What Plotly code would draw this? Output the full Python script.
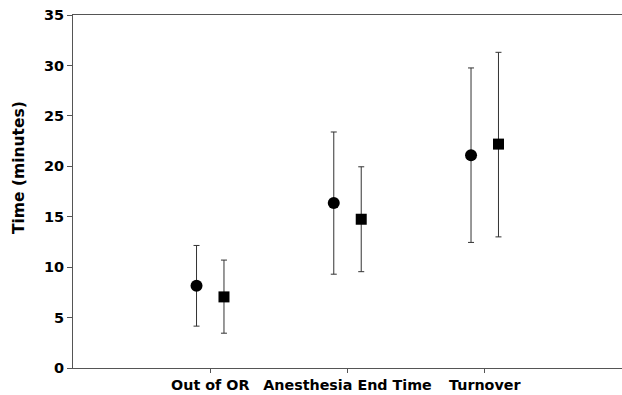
import plotly.graph_objects as go

categories = ["Out of OR", "Anesthesia End Time", "Turnover"]
series_a_mean = [8.15, 16.35, 21.1]
series_a_upper = [12.15, 23.4, 29.75]
series_a_lower = [4.15, 9.3, 12.45]
series_b_mean = [7.05, 14.75, 22.2]
series_b_upper = [10.7, 19.95, 31.3]
series_b_lower = [3.45, 9.55, 13.0]
y_ticks = [0, 5, 10, 15, 20, 25, 30, 35]

idx = list(range(len(categories)))
off = 0.1

def errs(mean, up, lo):
    return [u - m for u, m in zip(up, mean)], [m - l for m, l in zip(mean, lo)]

ea_p, ea_m = errs(series_a_mean, series_a_upper, series_a_lower)
eb_p, eb_m = errs(series_b_mean, series_b_upper, series_b_lower)

fig = go.Figure()
fig.add_trace(go.Scatter(
    x=[i - off for i in idx], y=series_a_mean, mode="markers",
    marker=dict(symbol="circle", size=12, color="black"),
    error_y=dict(type="data", symmetric=False, array=ea_p, arrayminus=ea_m,
                 color="#333333", thickness=1, width=3),
    showlegend=False))
fig.add_trace(go.Scatter(
    x=[i + off for i in idx], y=series_b_mean, mode="markers",
    marker=dict(symbol="square", size=11, color="black"),
    error_y=dict(type="data", symmetric=False, array=eb_p, arrayminus=eb_m,
                 color="#333333", thickness=1, width=3),
    showlegend=False))

font_fam = "DejaVu Sans"
fig.update_layout(
    width=622, height=395,
    margin=dict(l=73, r=0, t=15, b=27),
    plot_bgcolor="white", paper_bgcolor="white",
    font=dict(family=font_fam, size=13, color="black"),
    xaxis=dict(range=[-1, 3], tickvals=idx, ticktext=["<b>%s</b>" % c for c in categories],
               showline=True, linecolor="#555555", linewidth=1, mirror=True,
               ticks="outside", ticklen=4, tickcolor="#555555", automargin=False,
               showgrid=False, zeroline=False, tickfont=dict(size=14.3)),
    yaxis=dict(range=[0, 35], tickvals=y_ticks, ticktext=["<b>%d</b>" % v for v in y_ticks],
               showline=True, linecolor="#555555", linewidth=1, automargin=False,
               ticks="outside", ticklen=5, tickcolor="#555555",
               showgrid=False, zeroline=False, tickfont=dict(size=14.5)),
    annotations=[dict(text="<b>Time (minutes)</b>", textangle=-90, xref="paper", yref="paper",
                      x=-0.098, y=0.567, xanchor="center", yanchor="middle",
                      showarrow=False, font=dict(size=15.5, family=font_fam))],
)

fig.write_html("out.html",
               config={"displayModeBar": False},
               post_script="document.body.style.margin='0';document.body.style.overflow='hidden';")
